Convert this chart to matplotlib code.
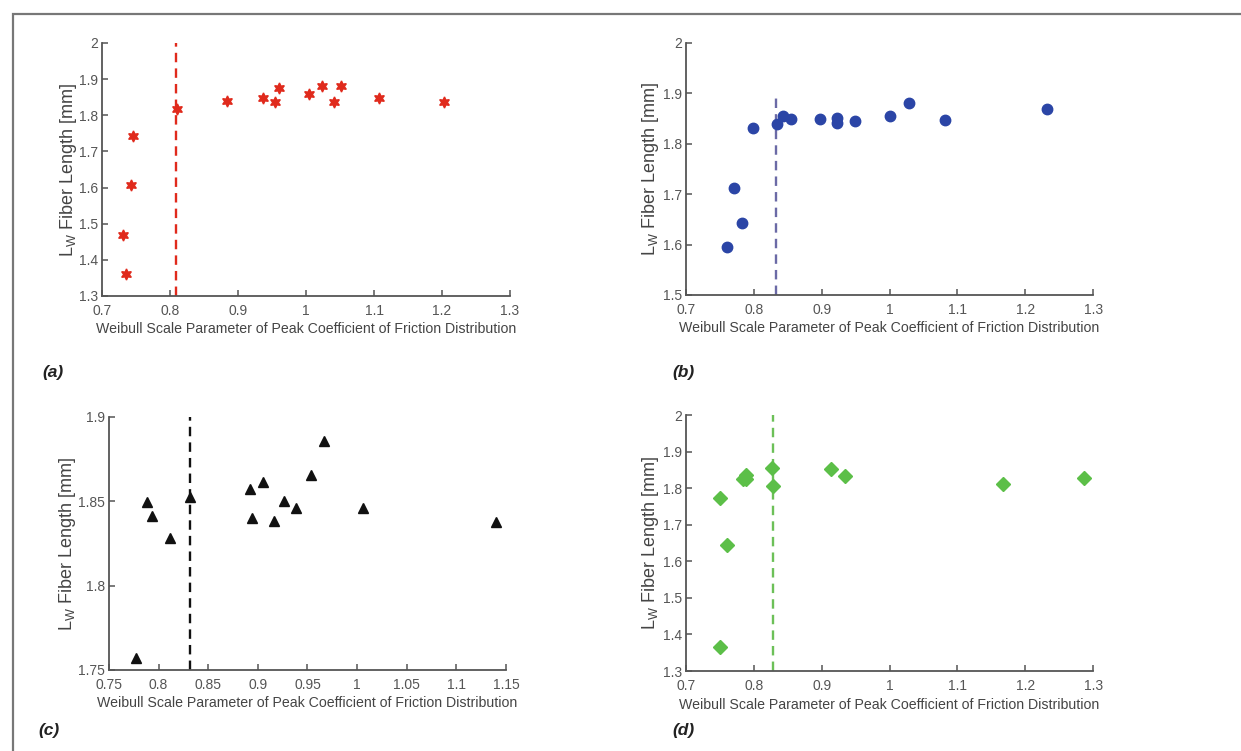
import matplotlib
matplotlib.use("Agg")
import matplotlib.pyplot as plt
from matplotlib.patches import Rectangle

plt.rcParams['font.family'] = ['Liberation Sans', 'DejaVu Sans']
plt.rcParams['mathtext.default'] = 'regular'

# (a) red hexagrams
a_x = [0.731, 0.736, 0.742, 0.746, 0.810, 0.884, 0.937, 0.955, 0.960, 1.005,
       1.023, 1.041, 1.051, 1.108, 1.203]
a_y = [1.470, 1.361, 1.607, 1.743, 1.816, 1.839, 1.847, 1.838, 1.876, 1.859,
       1.880, 1.837, 1.881, 1.848, 1.836]
a_thr = 0.809

# (b) blue circles
b_x = [0.761, 0.770, 0.783, 0.799, 0.834, 0.843, 0.854, 0.897, 0.923, 0.923,
       0.949, 1.001, 1.029, 1.082, 1.232]
b_y = [1.595, 1.712, 1.643, 1.832, 1.839, 1.855, 1.850, 1.850, 1.852, 1.842,
       1.846, 1.856, 1.880, 1.848, 1.868]
b_thr = 0.833

# (c) black triangles
c_x = [0.777, 0.788, 0.793, 0.812, 0.832, 0.892, 0.894, 0.905, 0.916, 0.926,
       0.938, 0.954, 0.967, 1.006, 1.140]
c_y = [1.757, 1.8495, 1.841, 1.828, 1.8526, 1.857, 1.840, 1.8614, 1.8385, 1.850,
       1.8462, 1.8654, 1.8856, 1.8462, 1.8377]
c_thr = 0.8315

# (d) green diamonds
d_x = [0.7496, 0.7496, 0.760, 0.784, 0.788, 0.789, 0.827, 0.8286, 0.9135, 0.9347,
       1.167, 1.2866]
d_y = [1.367, 1.772, 1.645, 1.826, 1.836, 1.825, 1.855, 1.807, 1.852, 1.834,
       1.812, 1.828]
d_thr = 0.8286

xlabel = "Weibull Scale Parameter of Peak Coefficient of Friction Distribution"
ylabel = r"$L_W$ Fiber Length [mm]"

fig = plt.figure(figsize=(12.41, 7.51), dpi=100)

# outer frame
fig.patches.append(Rectangle((13 / 1241, -0.01), 1.05, 1 - 14 / 751 + 0.01,
                             transform=fig.transFigure, fill=False,
                             edgecolor='#777777', linewidth=1.6))

panels = [
    dict(rect=[0.0822, 0.6059, 0.3288, 0.3369], x=a_x, y=a_y, thr=a_thr,
         thr_span=(1.3, 2.0), xlim=(0.7, 1.3), ylim=(1.3, 2.0),
         xticks=[0.7, 0.8, 0.9, 1.0, 1.1, 1.2, 1.3],
         yticks=[1.3, 1.4, 1.5, 1.6, 1.7, 1.8, 1.9, 2.0],
         marker=(6, 1, 0), ms=8, color='#e02a1c', lcolor='#e02a1c',
         ylabpad=0, tag='(a)', tagpos=(42 / 1241, 1 - 372 / 751)),
    dict(rect=[0.5528, 0.6072, 0.3280, 0.3356], x=b_x, y=b_y, thr=b_thr,
         thr_span=(1.5, 1.9), xlim=(0.7, 1.3), ylim=(1.5, 2.0),
         xticks=[0.7, 0.8, 0.9, 1.0, 1.1, 1.2, 1.3],
         yticks=[1.5, 1.6, 1.7, 1.8, 1.9, 2.0],
         marker='o', ms=7.5, color='#2b45a6', lcolor='#6b6aa6',
         ylabpad=1, tag='(b)', tagpos=(672 / 1241, 1 - 372 / 751)),
    dict(rect=[0.0878, 0.1079, 0.3199, 0.3369], x=c_x, y=c_y, thr=c_thr,
         thr_span=(1.75, 1.9), xlim=(0.75, 1.15), ylim=(1.75, 1.9),
         xticks=[0.75, 0.8, 0.85, 0.9, 0.95, 1.0, 1.05, 1.1, 1.15],
         yticks=[1.75, 1.8, 1.85, 1.9],
         marker='^', ms=7.5, color='#111111', lcolor='#111111',
         ylabpad=0, tag='(c)', tagpos=(38 / 1241, 1 - 730 / 751)),
    dict(rect=[0.5528, 0.1065, 0.3280, 0.3409], x=d_x, y=d_y, thr=d_thr,
         thr_span=(1.3, 2.0), xlim=(0.7, 1.3), ylim=(1.3, 2.0),
         xticks=[0.7, 0.8, 0.9, 1.0, 1.1, 1.2, 1.3],
         yticks=[1.3, 1.4, 1.5, 1.6, 1.7, 1.8, 1.9, 2.0],
         marker='D', ms=6.8, color='#5cbf48', lcolor='#6cc058',
         ylabpad=1, tag='(d)', tagpos=(672 / 1241, 1 - 730 / 751)),
]


def fmt(v):
    return f"{v:.2f}".rstrip('0').rstrip('.')


for p in panels:
    ax = fig.add_axes(p['rect'])
    ax.vlines(p['thr'], p['thr_span'][0], p['thr_span'][1], colors=p['lcolor'],
              linestyles=(0, (4, 2.6)), linewidth=1.7, zorder=2)
    ax.plot(p['x'], p['y'], linestyle='none', marker=p['marker'], ms=p['ms'],
            color=p['color'], markeredgecolor=p['color'], zorder=3,
            clip_on=False)
    ax.set_xlim(*p['xlim'])
    ax.set_ylim(*p['ylim'])
    ax.set_xticks(p['xticks'])
    ax.set_yticks(p['yticks'])
    ax.set_xticklabels([fmt(v) for v in p['xticks']])
    ax.set_yticklabels([fmt(v) for v in p['yticks']])
    for s in ('top', 'right'):
        ax.spines[s].set_visible(False)
    for s in ('left', 'bottom'):
        ax.spines[s].set_color('#555555')
        ax.spines[s].set_linewidth(1.3)
    ax.tick_params(direction='in', length=4, width=1.1, color='#555555',
                   labelcolor='#555555', labelsize=10)
    ax.tick_params(axis='x', pad=6)
    ax.tick_params(axis='y', pad=3)
    ax.set_xlabel(xlabel, fontsize=10.2, color='#444444', labelpad=3)
    ax.set_ylabel(ylabel, fontsize=13, color='#444444', labelpad=p['ylabpad'])
    ax.patch.set_alpha(0)
    fig.text(p['tagpos'][0], p['tagpos'][1], p['tag'], fontsize=12.5,
             fontweight='bold', fontstyle='italic', color='#222222',
             ha='left', va='center')

fig.savefig('out.png', dpi=100)
